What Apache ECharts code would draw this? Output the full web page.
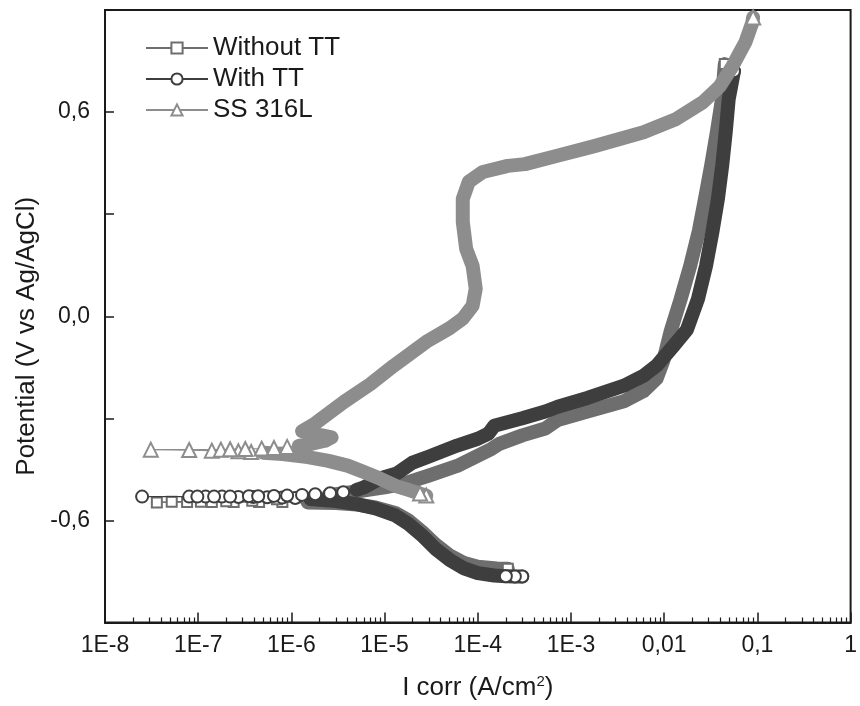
<!DOCTYPE html>
<html lang="en">
<head>
<meta charset="UTF-8">
<title>Polarization curves</title>
<script src="https://cdn.jsdelivr.net/npm/echarts@6/dist/echarts.min.js"></script>
<style>
    html, body { margin: 0; background: #fff; }
    #main { width: 860px; height: 706px; }
</style>
</head>
<body>
<div id="main"></div>
<script type="text/javascript">
    // [current density A/cm2, potential V]
    var withoutCath = [[2.1e-4, -0.742], [1.6e-4, -0.741], [1.0e-4, -0.736], [7e-5, -0.724], [5e-5, -0.703], [3.5e-5, -0.670],
        [2.5e-5, -0.632], [1.8e-5, -0.600], [1.3e-5, -0.578], [8e-6, -0.562], [5e-6, -0.553], [3e-6, -0.549], [1.5e-6, -0.547]];
    var withoutEcorr = [[8e-7, -0.546], [4.5e-7, -0.546], [2.4e-7, -0.546], [1.4e-7, -0.546], [7.6e-8, -0.546], [3.6e-8, -0.547],
        [5.2e-8, -0.545], [1.07e-7, -0.545], [2e-7, -0.544], [3.8e-7, -0.542], [7e-7, -0.538], [1.3e-6, -0.533]];
    var withoutAnod = [[2.5e-6, -0.526], [5e-6, -0.515], [1e-5, -0.503], [1.6e-5, -0.492], [3e-5, -0.468], [6e-5, -0.44],
        [1.0e-4, -0.41], [1.4e-4, -0.39], [1.7e-4, -0.375], [3e-4, -0.35], [5.3e-4, -0.33], [7.2e-4, -0.305], [1.5e-3, -0.28],
        [3.7e-3, -0.25], [6e-3, -0.22], [8.3e-3, -0.183], [0.0098, -0.13], [0.0117, -0.045], [0.015, 0.05], [0.019, 0.148],
        [0.0235, 0.25], [0.0274, 0.345], [0.032, 0.445], [0.0367, 0.541], [0.0417, 0.638], [0.0447, 0.741]];

    var withCath = [[3.0e-4, -0.765], [2.5e-4, -0.765], [2.0e-4, -0.764], [1.5e-4, -0.762], [1.0e-4, -0.755], [7e-5, -0.740],
        [5e-5, -0.716], [3.5e-5, -0.683], [2.5e-5, -0.643], [1.8e-5, -0.610], [1.3e-5, -0.585], [8e-6, -0.565], [5e-6, -0.552],
        [3e-6, -0.543], [1.6e-6, -0.537]];
    var withEcorr = [[1.1e-6, -0.534], [8e-7, -0.533], [5.5e-7, -0.532], [3.9e-7, -0.531], [2.7e-7, -0.531], [1.8e-7, -0.530],
        [1.2e-7, -0.530], [8e-8, -0.530], [2.5e-8, -0.530], [9.8e-8, -0.530], [1.48e-7, -0.530], [2.2e-7, -0.530],
        [3.5e-7, -0.529], [4.4e-7, -0.529], [6.5e-7, -0.528], [9e-7, -0.527], [1.3e-6, -0.525], [1.8e-6, -0.523],
        [2.6e-6, -0.52], [3.6e-6, -0.517]];
    var withAnod = [[5e-6, -0.51], [6e-6, -0.503], [8.9e-6, -0.477], [1.35e-5, -0.462], [2e-5, -0.43], [3e-5, -0.412],
        [6e-5, -0.38], [1.0e-4, -0.36], [1.3e-4, -0.345], [1.5e-4, -0.322], [3e-4, -0.30], [5.3e-4, -0.28], [7.2e-4, -0.266],
        [1.5e-3, -0.24], [3.7e-3, -0.204], [6e-3, -0.175], [8.3e-3, -0.145], [0.0126, -0.087], [0.0175, -0.04], [0.023, 0.05],
        [0.0281, 0.148], [0.033, 0.25], [0.0377, 0.345], [0.042, 0.445], [0.0457, 0.541], [0.0492, 0.638], [0.056, 0.72]];

    var ssCath = [[2.8e-5, -0.527], [2.4e-5, -0.521], [1.8e-5, -0.51], [1.35e-5, -0.50], [8.9e-6, -0.477], [6e-6, -0.458],
        [4e-6, -0.439], [2.5e-6, -0.425], [1.5e-6, -0.414], [8e-7, -0.405], [5e-7, -0.401]];
    var ssEcorr = [[3.7e-7, -0.399], [2.7e-7, -0.397], [1.4e-7, -0.395], [8e-8, -0.393], [3.1e-8, -0.392], [1.75e-7, -0.392],
        [2.2e-7, -0.391], [3.2e-7, -0.39], [4.8e-7, -0.389], [6.5e-7, -0.387], [9e-7, -0.384]];
    var ssAnod = [[1.2e-6, -0.381], [1.7e-6, -0.374], [2.3e-6, -0.366], [2.7e-6, -0.356], [1.3e-6, -0.338], [1.8e-6, -0.315],
        [3.7e-6, -0.251], [7e-6, -0.2], [1.26e-5, -0.145], [2.8e-5, -0.075], [5e-5, -0.035], [6.9e-5, -0.007], [8.8e-5, 0.031],
        [9.5e-5, 0.081], [8.8e-5, 0.148], [7.5e-5, 0.198], [6.9e-5, 0.277], [6.9e-5, 0.345], [8e-5, 0.395], [1.13e-4, 0.424],
        [2.1e-4, 0.442], [3.2e-4, 0.447], [6.8e-4, 0.47], [1.78e-3, 0.50], [6e-3, 0.541], [0.0135, 0.58], [0.026, 0.629],
        [0.0395, 0.676], [0.054, 0.735], [0.0745, 0.806], [0.088, 0.862], [0.09, 0.878]];

    var xTickLabels = ['1E-8', '1E-7', '1E-6', '1E-5', '1E-4', '1E-3', '0,01', '0,1', '1'];
    var yTickValues = [-0.6, 0, 0.6];
    var yTickLabels = ['-0,6', '0,0', '0,6'];

    var cWithout = '#6e6e6e', cWith = '#3e3e3e', cSS = '#8d8d8d';
    var axisColor = '#1a1a1a';
    var font = 'Liberation Sans, Arial, sans-serif';

    function band(name, data, color, z) {
        return {
            name: name, type: 'line', data: data, symbol: 'none', silent: true, z: z,
            lineStyle: {color: color, width: 14, cap: 'round', join: 'round'}
        };
    }

    // markers only where the original points are sparse (near Ecorr) and at the two ends of the sweep
    function marks(name, cath, ecorr, anod, nStart, symbol, size, color, z) {
        var pts = [];
        cath.forEach(function (p, i) {
            pts.push(i < nStart ? p : {value: p, symbol: 'none'});
        });
        ecorr.forEach(function (p) {
            pts.push(p);
        });
        anod.forEach(function (p, i) {
            pts.push(i === anod.length - 1 ? p : {value: p, symbol: 'none'});
        });
        return {
            name: name, type: 'line', data: pts, symbol: symbol, symbolSize: size, showAllSymbol: true, z: z,
            itemStyle: {color: color, borderWidth: 1.3},
            lineStyle: {color: color, width: 1.3}
        };
    }

    var myChart = echarts.init(document.getElementById('main'));

    var option = {
        animation: false,
        backgroundColor: '#fff',
        textStyle: {fontFamily: font},
        grid: {left: 105, right: 2, top: 10, bottom: 83, show: true, borderColor: axisColor, borderWidth: 2},
        legend: {
            data: ['Without TT', 'With TT', 'SS 316L'],
            orient: 'vertical',
            left: 140, top: 30,
            itemWidth: 62, itemHeight: 14, itemGap: 5,
            textStyle: {fontSize: 26, color: axisColor, fontFamily: font, lineHeight: 26}
        },
        xAxis: {
            type: 'log', logBase: 10, min: 1e-8, max: 1,
            name: 'I corr (A/cm{sup|2})',
            nameLocation: 'middle', nameGap: 52,
            nameTextStyle: {
                fontSize: 26, color: axisColor, fontFamily: font,
                rich: {sup: {fontSize: 15, verticalAlign: 'top', padding: [0, 0, 12, 0], color: axisColor}}
            },
            axisLine: {onZero: false, lineStyle: {color: axisColor, width: 2}},
            axisTick: {inside: true, length: 10, lineStyle: {color: axisColor, width: 1.5}},
            minorTick: {show: true, splitNumber: 9, length: 5, lineStyle: {color: axisColor, width: 1.2}},
            splitLine: {show: false},
            axisLabel: {
                fontSize: 23, color: axisColor, margin: 12, fontFamily: font,
                formatter: function (v) {
                    return xTickLabels[Math.round(Math.log10(v)) + 8];
                }
            }
        },
        yAxis: {
            type: 'value', min: -0.9, max: 0.9, interval: 0.3,
            name: 'Potential (V vs Ag/AgCl)',
            nameLocation: 'middle', nameGap: 60,
            nameTextStyle: {fontSize: 26, color: axisColor, fontFamily: font, padding: [0, 40, 0, 0]},
            axisLine: {show: true, onZero: false, lineStyle: {color: axisColor, width: 2}},
            axisTick: {show: true, inside: true, length: 9, lineStyle: {color: axisColor, width: 1.5}},
            splitLine: {show: false},
            axisLabel: {
                fontSize: 23, color: axisColor, margin: 15, fontFamily: font,
                formatter: function (v) {
                    for (var i = 0; i < yTickValues.length; i++) {
                        if (Math.abs(v - yTickValues[i]) < 1e-6) return yTickLabels[i];
                    }
                    return '';
                }
            }
        },
        series: [
            band('withoutCathBand', withoutCath, cWithout, 1),
            band('withoutAnodBand', withoutAnod, cWithout, 1),
            marks('Without TT', withoutCath, withoutEcorr, withoutAnod, 1, 'emptyRect', 10, cWithout, 2),
            band('withCathBand', withCath, cWith, 3),
            band('withAnodBand', withAnod, cWith, 3),
            marks('With TT', withCath, withEcorr, withAnod, 3, 'emptyCircle', 12, cWith, 4),
            band('ssCathBand', ssCath, cSS, 5),
            band('ssAnodBand', ssAnod, cSS, 5),
            marks('SS 316L', ssCath, ssEcorr, ssAnod, 2, 'emptyTriangle', 14, cSS, 6)
        ]
    };

    myChart.setOption(option);
</script>
</body>
</html>
